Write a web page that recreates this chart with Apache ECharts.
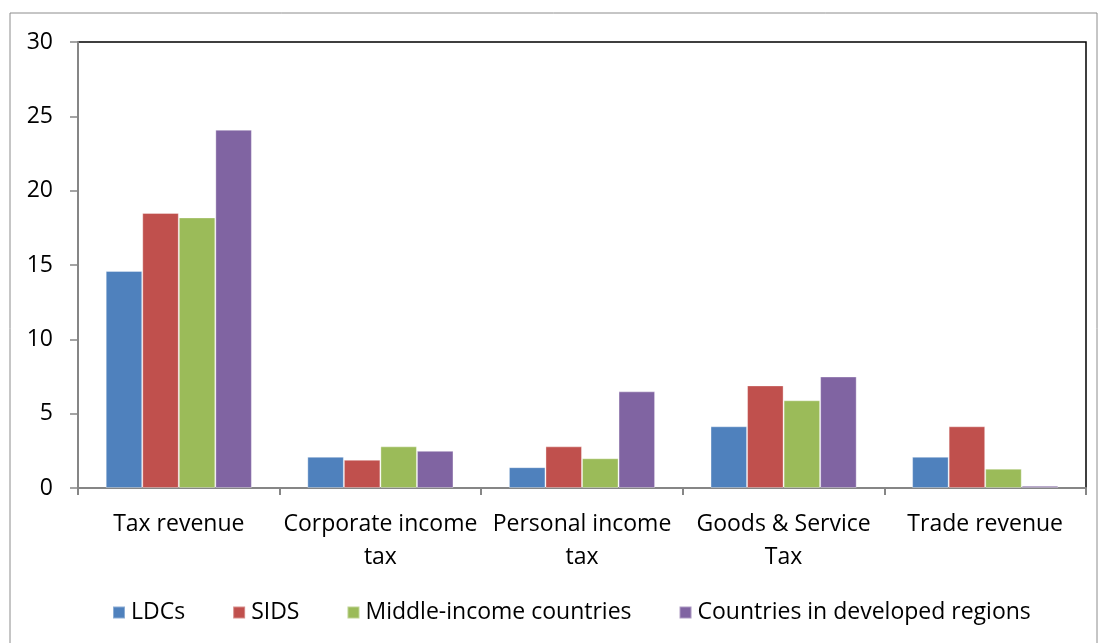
<!DOCTYPE html>
<html><head><meta charset="utf-8">
<script src="https://cdn.jsdelivr.net/npm/echarts@6/dist/echarts.min.js"></script>
<style>html,body{margin:0;padding:0;background:#fff}#c{width:1099px;height:643px}</style>
</head><body><div id="c"></div>
<script>
const categories = ['Tax revenue', 'Corporate income\ntax', 'Personal income\ntax', 'Goods & Service\nTax', 'Trade revenue'];
const seriesNames = ['LDCs', 'SIDS', 'Middle-income countries', 'Countries in developed regions'];
const ldcs = [14.6, 2.1, 1.4, 4.15, 2.1];
const sids = [18.5, 1.9, 2.8, 6.9, 4.15];
const middle = [18.2, 2.8, 2.0, 5.9, 1.3];
const developed = [24.1, 2.5, 6.5, 7.5, 0.15];
const yTicks = [0, 5, 10, 15, 20, 25, 30];
const colors = ['#4F81BD', '#C0504D', '#9BBB59', '#8064A2'];
const seriesData = [ldcs, sids, middle, developed];

const font = '"Open Sans", "Liberation Sans", sans-serif';
const chart = echarts.init(document.getElementById('c'));
chart.setOption({
  animation: false,
  textStyle: { fontFamily: font },
  graphic: [{ type: 'rect', shape: { x: 10, y: 13, width: 1087, height: 640 }, style: { fill: 'none', stroke: '#8c8c8c', lineWidth: 1 } }],
  grid: { left: 78, right: 13, top: 42, bottom: 155, show: true, borderColor: '#000', borderWidth: 1.5, backgroundColor: 'transparent' },
  legend: {
    bottom: 14, left: 107, itemWidth: 12, itemHeight: 12, itemGap: 47, icon: 'rect',
    textStyle: { fontSize: 23, color: '#000', fontFamily: font, padding: [0, 0, 0, 1] },
    data: seriesNames
  },
  xAxis: {
    type: 'category', data: categories,
    axisLine: { lineStyle: { color: '#868686', width: 2 } },
    axisTick: { show: true, alignWithLabel: false, length: 7, lineStyle: { color: '#868686', width: 2 } },
    axisLabel: { fontSize: 23, color: '#000', margin: 20, lineHeight: 33, interval: 0, fontFamily: font }
  },
  yAxis: {
    type: 'value', min: 0, max: 30, interval: 5,
    axisLine: { show: true, lineStyle: { color: '#868686', width: 2 } },
    axisTick: { show: true, length: 8, lineStyle: { color: '#868686', width: 1.5 } },
    splitLine: { show: false },
    axisLabel: { fontSize: 23, color: '#000', margin: 25, fontFamily: font,
      formatter: v => yTicks.includes(v) ? String(v) : '' }
  },
  series: seriesNames.map((n, i) => ({
    name: n, type: 'bar', data: seriesData[i],
    barGap: '0%', barCategoryGap: '27.5%',
    itemStyle: { color: colors[i], borderColor: 'rgba(255,255,255,0.35)', borderWidth: 1 }
  }))
});
</script></body></html>
